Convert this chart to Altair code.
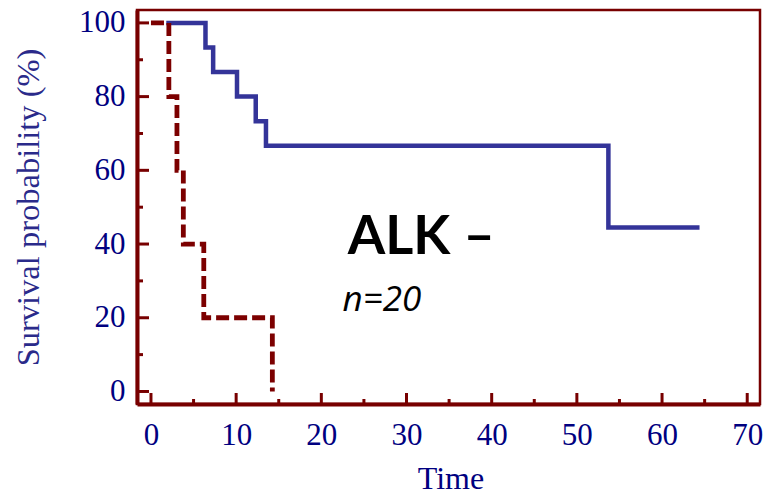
import altair as alt
import pandas as pd

# Kaplan-Meier step data
blue_time = [1.8, 6.4, 7.3, 10.1, 12.3, 13.5, 53.7, 64.4]
blue_surv = [100, 93.3, 86.7, 80, 73.3, 66.7, 44.5, 44.5]
red_time = [0, 2.1, 3.05, 3.8, 6.2, 14.25]
red_surv = [100, 80, 60, 40, 20, 0]

x_major = [0, 10, 20, 30, 40, 50, 60, 70]
x_minor = [5, 15, 25, 35, 45, 55, 65]
y_major = [0, 20, 40, 60, 80, 100]
y_minor = [10, 30, 50, 70, 90]

label_main = ["ALK \u2013"]
label_n = ["n=20"]
label_main_pos = [23.1, 37.2]
label_n_pos = [22.5, 21.7]

W, H = 623, 394
FRAME = "#780000"
NAVY = "#000080"

xs = alt.Scale(domain=[-1.64, 71.5], nice=False, zero=False)
ys = alt.Scale(domain=[-3.4, 103.5], nice=False, zero=False)

blue_df = pd.DataFrame({"t": blue_time, "s": blue_surv})
red_df = pd.DataFrame({"t": red_time, "s": red_surv})

x_axis = alt.Axis(
    values=x_major, ticks=False, grid=False, domain=True,
    domainColor=FRAME, domainWidth=4,
    labelFont="Liberation Serif", labelFontSize=31, labelColor=NAVY,
    labelPadding=16, labelFlush=False,
    title="Time", titleFont="Liberation Serif", titleFontSize=32,
    titleFontWeight="normal", titleColor=NAVY,
    titleX=W / 2 + 2, titleY=84, titleBaseline="alphabetic", titleAnchor="middle",
)
y_axis = alt.Axis(
    values=y_major, ticks=False, grid=False, domain=True,
    domainColor=FRAME, domainWidth=4,
    labelFont="Liberation Serif", labelFontSize=31, labelColor=NAVY,
    labelPadding=12, labelFlush=False,
    title="Survival probability (%)", titleFont="Liberation Serif",
    titleFontSize=32.5, titleFontWeight="normal", titleColor="#2a2a8a",
    titleAngle=-90, titleX=-109, titleY=H / 2, titleAlign="center",
    titleBaseline="middle",
)

def X(field):
    return alt.X(field, scale=xs, axis=x_axis)

def Y(field):
    return alt.Y(field, scale=ys, axis=y_axis)

blue = alt.Chart(blue_df).mark_line(
    interpolate="step-after", color="#343499", strokeWidth=4.5, strokeCap="butt"
).encode(x=X("t:Q"), y=Y("s:Q"))

red = alt.Chart(red_df).mark_line(
    interpolate="step-after", color="#7c0000", strokeWidth=4.8,
    strokeDash=[13, 5], strokeCap="butt"
).encode(x=X("t:Q"), y=Y("s:Q"))

def xticks(vals, length):
    return alt.Chart(pd.DataFrame({"t": vals})).mark_rule(
        color=FRAME, strokeWidth=3
    ).encode(x=X("t:Q"), y=alt.value(H), y2=alt.value(H - length))

def yticks(vals, length):
    return alt.Chart(pd.DataFrame({"s": vals})).mark_rule(
        color=FRAME, strokeWidth=3
    ).encode(y=Y("s:Q"), x=alt.value(0), x2=alt.value(length))

txt1 = alt.Chart(pd.DataFrame({"t": [label_main_pos[0]], "s": [label_main_pos[1]], "l": label_main})).mark_text(
    font="Lato", fontWeight="bold", fontSize=54, align="left", baseline="alphabetic", color="black"
).encode(x=X("t:Q"), y=Y("s:Q"), text="l:N")

txt2 = alt.Chart(pd.DataFrame({"t": [label_n_pos[0]], "s": [label_n_pos[1]], "l": label_n})).mark_text(
    font="Open Sans", fontStyle="italic", fontSize=35, align="left", baseline="alphabetic", color="black"
).encode(x=X("t:Q"), y=Y("s:Q"), text="l:N")

chart = alt.layer(
    blue, red,
    xticks(x_major, 11), xticks(x_minor, 5),
    yticks(y_major, 12), yticks(y_minor, 6),
    txt1, txt2,
).properties(
    width=W, height=H, autosize="none",
    padding={"left": 137, "top": 10, "right": 7, "bottom": 91},
    background="white",
).configure_view(stroke=FRAME, strokeWidth=2.5)

chart.save("out.html", embed_options={"renderer": "svg", "actions": False})
